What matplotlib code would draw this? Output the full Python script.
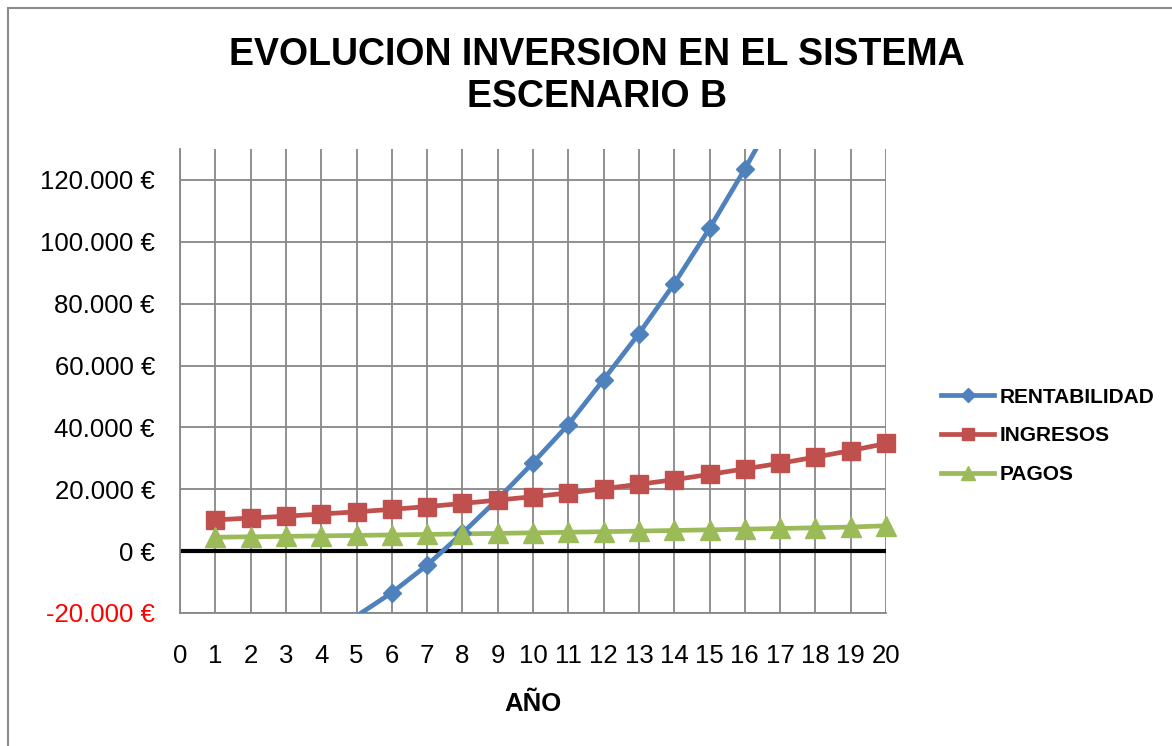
import matplotlib
matplotlib.use("Agg")
import matplotlib.pyplot as plt
from matplotlib.patches import Rectangle
from matplotlib.ticker import FuncFormatter, MultipleLocator
from matplotlib.lines import Line2D

years = list(range(1, 21))
rentabilidad = [-48000, -42000, -35500, -28500, -21000, -13440, -4520, 5800, 16800, 28560,
                40900, 55450, 70300, 86460, 104300, 123500, 144000, 166000, 189500, 215000]
ingresos = [10100, 10700, 11300, 12000, 12700, 13500, 14400, 15400, 16500, 17600,
            18800, 20200, 21600, 23100, 24800, 26600, 28400, 30400, 32500, 34800]
pagos = [4500, 4640, 4780, 4930, 5080, 5240, 5400, 5570, 5740, 5920,
         6100, 6290, 6480, 6680, 6890, 7100, 7320, 7550, 7780, 8200]
series_names = ["RENTABILIDAD", "INGRESOS", "PAGOS"]
title_text = "EVOLUCION INVERSION EN EL SISTEMA\nESCENARIO B"
xlabel_text = "AÑO"

W, H = 1172, 746
fig = plt.figure(figsize=(W / 100, H / 100), dpi=100)
plt.rcParams['font.family'] = ['Liberation Sans', 'DejaVu Sans']

# outer chart frame
fig.patches.append(Rectangle((8 / W, -0.01), 1.2, 1 - 8 / H + 0.01, transform=fig.transFigure,
                             fill=False, edgecolor="#8c8c8c", linewidth=1.5))

ax = fig.add_axes([180 / W, 1 - 613 / H, (886 - 180) / W, (613 - 149) / H])

grid_c = "#878787"
YMIN, YMAX = -20000, 130000
ax.set_xlim(0, 20)
ax.set_ylim(YMIN, YMAX)
ax.xaxis.set_major_locator(MultipleLocator(1))
ax.set_yticks(list(range(-20000, 120001, 20000)))
ax.grid(True, color=grid_c, linewidth=1.3, zorder=0)
ax.set_axisbelow(True)
for s in ["top", "right"]:
    ax.spines[s].set_visible(False)
for s in ["left", "bottom"]:
    ax.spines[s].set_color(grid_c)
    ax.spines[s].set_linewidth(1.3)

ax.axhline(0, color="black", linewidth=3, zorder=2)

clip_rect = Rectangle((-0.05, 0), 1.1, 1, transform=ax.transAxes, visible=False)
ax.add_patch(clip_rect)

colors = ["#4F81BD", "#C0504D", "#9BBB59"]
markers = ["D", "s", "^"]
msizes = [9.5, 13, 14.5]
handles = []
for vals, name, c, m, ms in zip([rentabilidad, ingresos, pagos], series_names, colors, markers, msizes):
    ln, = ax.plot(years, vals, color=c, linewidth=3.4, zorder=3)
    ln.set_clip_path(clip_rect)
    # markers only for points inside the value range (as the source chart shows)
    xs = [x for x, v in zip(years, vals) if YMIN <= v <= YMAX]
    vs = [v for v in vals if YMIN <= v <= YMAX]
    ax.plot(xs, vs, linestyle="none", marker=m, markersize=ms, color=c, zorder=4, clip_on=False)
    handles.append(Line2D([], [], color=c, linewidth=3.4, marker=m, markersize=ms * 0.7, label=name))

def fmt(v, pos):
    v = int(round(v))
    s = f"{abs(v):,}".replace(",", ".")
    return ("-" if v < 0 else "") + s + " €"

ax.yaxis.set_major_formatter(FuncFormatter(fmt))
ax.tick_params(axis="both", length=0, labelsize=18.5)
ax.tick_params(axis="y", pad=18)
ax.tick_params(axis="x", pad=22)
fig.canvas.draw()
for lbl in ax.get_yticklabels():
    if lbl.get_text().startswith("-"):
        lbl.set_color("red")

fig.text(597 / W, 1 - 76 / H, title_text, ha="center", va="center", fontsize=27,
         fontweight="bold", linespacing=1.22)
fig.text(533 / W, 1 - 704 / H, xlabel_text, ha="center", va="center", fontsize=18.5,
         fontweight="bold")

leg = ax.legend(handles=handles, loc="center left", bbox_to_anchor=(941 / W, 1 - 436 / H),
                bbox_transform=fig.transFigure, frameon=False, fontsize=15,
                handlelength=2.55, handletextpad=0.25, labelspacing=0.95,
                borderpad=0, borderaxespad=0)
for t in leg.get_texts():
    t.set_fontweight("bold")

fig.savefig("out.png", dpi=100)
